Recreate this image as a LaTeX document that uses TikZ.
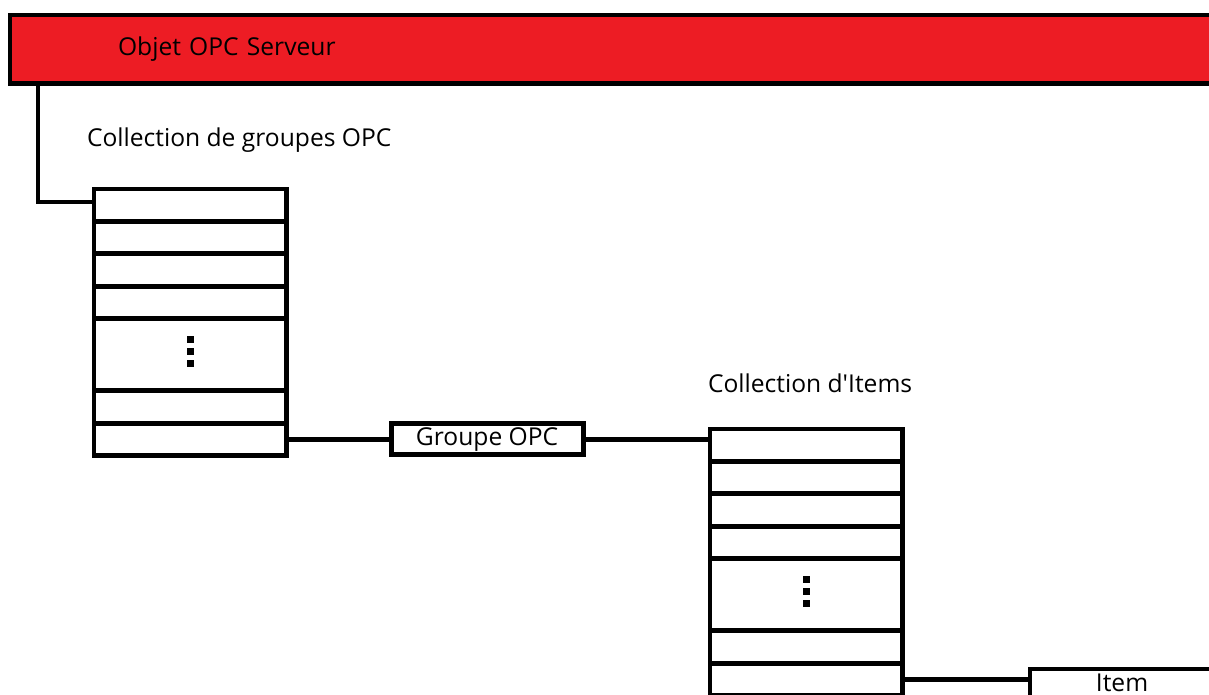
\documentclass[tikz,border=0pt]{standalone}
\usepackage{fontspec}
\setmainfont{Open Sans}
\usetikzlibrary{positioning}
\definecolor{paintred}{HTML}{ED1C24}

\begin{document}
\begin{tikzpicture}[    % pixel grid, y pointing down
    x=0.025cm, y=-0.025cm,
    line width=3.5pt,
    every node/.style={outer sep=0pt, font=\fontsize{17.5}{21}\selectfont},
    serveurbox/.style={
        draw,
        fill=paintred,
        anchor=north west,
        minimum height=1.7125cm,
        inner xsep=2.7cm,
        text width=25.85cm,
        align=left
    },
    rowbox/.style={draw, minimum width=4.8cm, minimum height=0.81cm, inner sep=0pt},
    dotsbox/.style={rowbox, minimum height=1.8cm},
    namebox/.style={draw, minimum width=4.8cm, minimum height=0.775cm, inner sep=0pt},
    caption/.style={anchor=west, inner sep=0pt}
]
    \useasboundingbox (0,0) rectangle (1209,695);
    \clip (0,0) rectangle (1209,695);

    % 1. The server object
    \node [serveurbox] (serveur) at (10,15) {Objet OPC Serveur};

    % 2. The collection of groups
    \node [caption] (grouplabel) at (87,140) {Collection de groupes OPC};
    \node [rowbox, anchor=north west] (g1) at (94,189) {};
    \node [rowbox, below=0pt of g1] (g2) {};
    \node [rowbox, below=0pt of g2] (g3) {};
    \node [rowbox, below=0pt of g3] (g4) {};
    \node [dotsbox, below=0pt of g4] (gdots) {};
    \node [rowbox, below=0pt of gdots] (g5) {};
    \node [rowbox, below=0pt of g5] (g6) {};
    \foreach \d in {-15,-3,9}
        \fill (gdots.center) ++(-3.5,\d-3.5) rectangle ++(7,7);

    % 3. The group
    \node [namebox, right=2.625cm of g6] (groupe) {Groupe OPC};

    % 4. The collection of items
    \node [caption] (itemlabel) at (708,383) {Collection d\textquotesingle Items};
    \node [rowbox, anchor=north west] (i1) at (710,429) {};
    \node [rowbox, below=0pt of i1] (i2) {};
    \node [rowbox, below=0pt of i2] (i3) {};
    \node [rowbox, below=0pt of i3] (i4) {};
    \node [dotsbox, below=0pt of i4] (idots) {};
    \node [rowbox, below=0pt of idots] (i5) {};
    \node [rowbox, below=0pt of i5] (i6) {};
    \foreach \d in {-15,-3,9}
        \fill (idots.center) ++(-3.5,\d-3.5) rectangle ++(7,7);

    % 5. The item
    \node [namebox, anchor=north west, minimum width=4.6cm, minimum height=0.75cm,
           text depth=0.07cm] (item) at (1030,669) {Item};

    % The connections
    \coordinate (bend) at (38,202);
    \draw (serveur.south -| bend) -- (bend) -- (bend -| g1.west);
    \draw (g6.east) -- (groupe.west);
    \draw (groupe.east) -- (groupe.east -| i1.west);
    \draw (i6.east) -- (i6.east -| item.west);

\end{tikzpicture}
\end{document}
